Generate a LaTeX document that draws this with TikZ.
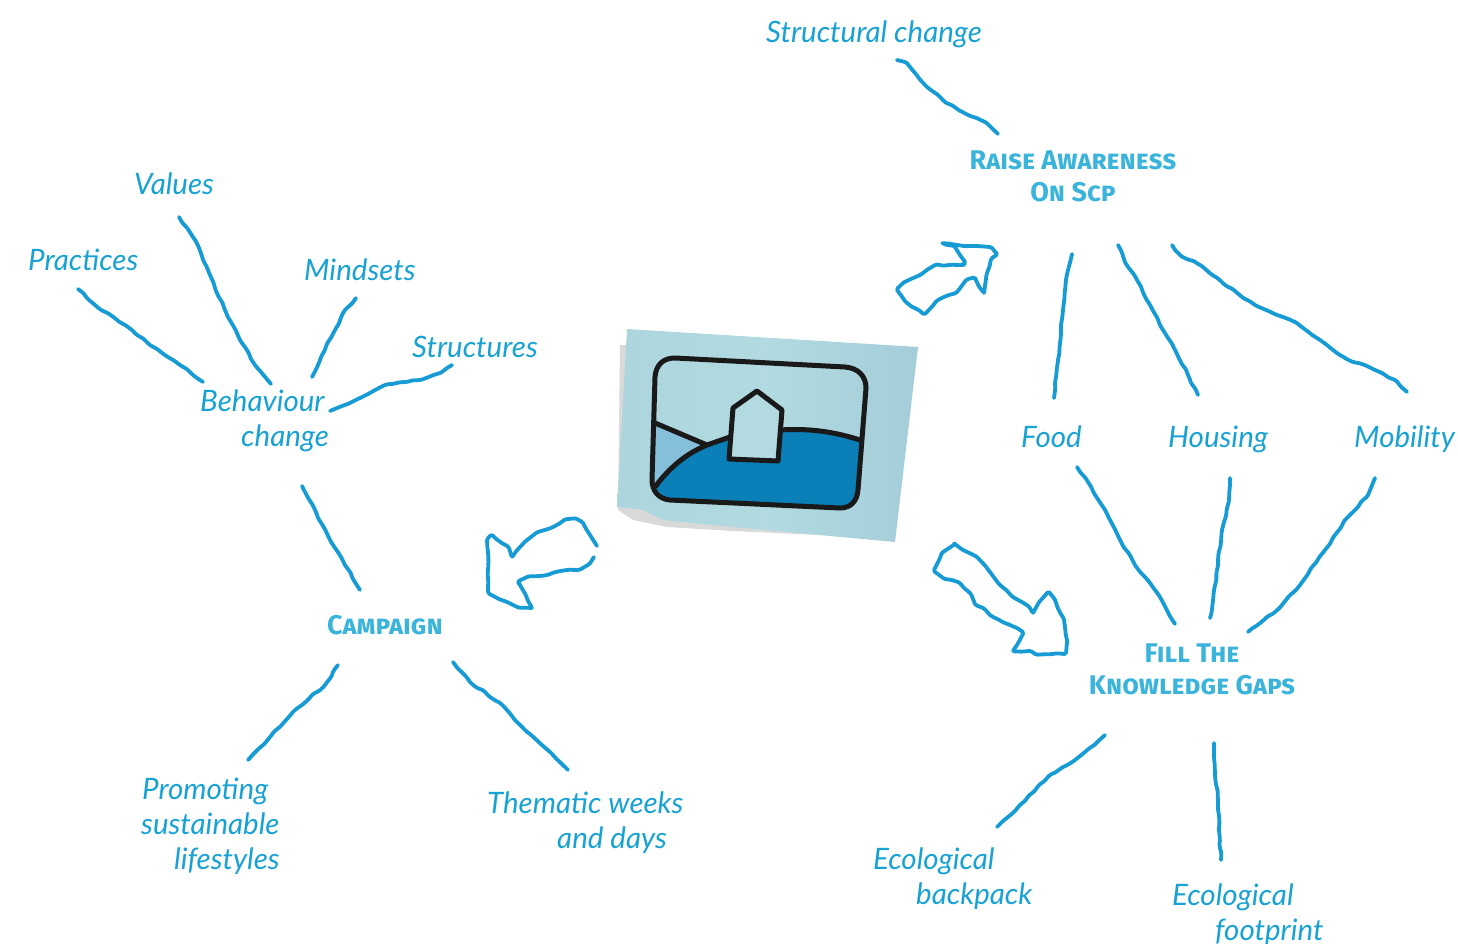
\documentclass[tikz,border=0pt]{standalone}
\usepackage{fontspec}
\usetikzlibrary{decorations.pathmorphing}
\setmainfont{Lato}
\newfontfamily\headfont[Numbers=Lining]{Fira Sans}
\definecolor{pen}{HTML}{169BD5}
\definecolor{labelc}{HTML}{18A2D4}
\definecolor{headc}{HTML}{3BB4DC}
\definecolor{stickerc}{HTML}{B2DAE0}
\definecolor{stickerd}{HTML}{A4CDDA}
\definecolor{stickerl}{HTML}{ACD5DE}
\definecolor{deepc}{HTML}{0A7FB8}
\definecolor{hillc}{HTML}{86BFD9}
\pgfmathsetseed{7}
\tikzset{
  wig/.style={draw=pen,line width=3.8pt,line join=round,line cap=round,rounded corners=1.5pt,
    decorate,decoration={random steps,segment length=7pt,amplitude=0.9pt}},
  lab/.style={inner sep=0pt,anchor=west,align=left,text=labelc,font=\fontsize{29.5}{35}\selectfont\itshape},
  head/.style={inner sep=0pt,align=center,text=headc,font=\headfont\fontsize{27}{32}\selectfont\bfseries\scshape},
  ink/.style={draw=black!90,line width=5pt,line join=round}
}
\begin{document}
\begin{tikzpicture}[x=1pt,y=-1pt]
\useasboundingbox (0,0) rectangle (1458,944);
% labels
\node[lab] (structural) at (766,34) {Structural change};
\node[head] (raise) at (1073,176) {Raise Awareness\\On Scp};
\node[lab] (food) at (1021,437) {Food};
\node[lab] (housing) at (1168,439) {Housing};
\node[lab] (mobility) at (1354,439) {Mobility};
\node[head] (fill) at (1192,669) {Fill The\\Knowledge Gaps};
\node[lab] (backpack) at (873,879) {Ecological\\\hspace*{43pt}backpack};
\node[lab] (footprint) at (1172,915) {Ecological\\\hspace*{43pt}footprint};
\node[lab] (values) at (134,184) {Values};
\node[lab] (practices) at (28,260) {Practices};
\node[lab] (mindsets) at (304,270) {Mindsets};
\node[lab] (structures) at (412,347) {Structures};
\node[lab] (behaviour) at (200,421) {Behaviour\\\hspace*{41pt}change};
\node[lab] (promoting) at (141,826) {\hspace*{1pt}Promoting\\sustainable\\\hspace*{33pt}lifestyles};
\node[head] (campaign) at (385,625) {Campaign};
\node[lab] (thematic) at (487,823) {Thematic weeks\\\hspace*{70pt}and days};
% connectors
\draw[wig] (897,60)--(905,62)--(915,73)--(925,85)--(945,102)--(968,115)--(985,122)--(998,134);
\draw[wig] (1072,254)--(1068,270)--(1065,290)--(1063,310)--(1061,325)--(1058,360)--(1054,398);
\draw[wig] (1118,245)--(1125,262)--(1140,285)--(1150,305)--(1160,325)--(1175,350)--(1188,375)--(1198,395);
\draw[wig] (1172,245)--(1180,255)--(1200,265)--(1225,285)--(1255,305)--(1295,322)--(1320,340)--(1345,358)--(1375,370)--(1395,380)--(1407,392);
\draw[wig] (1077,467)--(1090,485)--(1105,510)--(1120,540)--(1135,565)--(1155,590)--(1175,624);
\draw[wig] (1230,478)--(1229,500)--(1222,530)--(1218,565)--(1214,590)--(1210,618);
\draw[wig] (1375,478)--(1368,495)--(1345,520)--(1325,550)--(1300,585)--(1275,612)--(1248,632);
\draw[wig] (1105,735)--(1075,760)--(1050,775)--(1020,805)--(997,827);
\draw[wig] (1214,743)--(1215,775)--(1218,800)--(1219,830)--(1221,860);
\draw[wig] (453,662)--(470,682)--(500,703)--(525,730)--(550,752)--(568,770);
\draw[wig] (338,665)--(325,685)--(295,710)--(270,737)--(248,760);
\draw[wig] (302,486)--(315,510)--(330,540)--(345,565)--(360,590);
\draw[wig] (330,411)--(360,398)--(385,385)--(420,380)--(440,373)--(452,365);
\draw[wig] (356,298)--(345,310)--(335,330)--(322,355)--(312,377);
\draw[wig] (179,217)--(195,240)--(210,275)--(225,310)--(240,340)--(255,365)--(271,384);
\draw[wig] (78,289)--(95,305)--(125,325)--(150,345)--(180,365)--(203,382);
% hand drawn arrows
\draw[wig] (942,243)--(957,245)--(977,246)--(990,247)--(997,254)--(992,258)--(987,273)--(984,293)--(980,288)--(975,278)--(968,279)--(957,292)--(938,300)--(925,314)--(907,303)--(897,290)--(902,284)--(920,275)--(935,265)--(962,265)--(965,263)--(955,247)--cycle;
\draw[wig] (597,546)--(583,523)--(577,519)--(567,519)--(553,527)--(538,532)--(527,540)--(512,557)--(509,548)--(492,535)--(488,538)--(488,592)--(497,598)--(507,602)--(517,607)--(532,608)--(520,585)--(518,582)--(527,577)--(540,576)--(567,570)--(578,570)--(588,565)--(594,557);
\draw[wig] (955,544)--(943,552)--(934,570)--(943,578)--(958,582)--(970,593)--(975,604)--(983,608)--(990,615)--(1010,625)--(1023,632)--(1013,651)--(1030,651)--(1035,654)--(1065,654)--(1067,643)--(1064,620)--(1055,600)--(1049,592)--(1040,601)--(1033,613)--(1030,608)--(1013,597)--(1000,585)--(990,572)--(978,558)--(963,550)--cycle;
% sticker
\fill[black!15] (620,345)--(640,345)--(640,505)--(820,535)--(733,531)--(667,527)--(633,520)--(618,510)--cycle;
\shade[left color=stickerl,right color=stickerd,middle color=stickerc]
  (627,329)--(918,347)--(895,542)--(733,527)--(663,520)--(643,510)--(617,507)--cycle;
\coordinate (hillL) at (655,487);
\coordinate (hillR) at (860,440);
\coordinate (hillM) at (707,445);
\fill[hillc] (655,423)--(707,445)--(680,460)--(655,487)--(652,478)--cycle;
\fill[deepc] (hillL) .. controls (672,464) and (690,452) .. (hillM) -- (730,437) .. controls (770,428) and (820,428) .. (hillR) -- (858,493) .. controls (856,502) and (850,508) .. (840,508) -- (670,500) .. controls (664,498) and (660,494) .. (hillL) -- cycle;
\draw[ink] (655,423)--(hillM);
\draw[ink] (hillL) .. controls (672,464) and (690,452) .. (hillM) -- (730,437);
\draw[ink] (780,430) .. controls (810,428) and (835,432) .. (hillR);
\fill[stickerc] (733,408)--(757,391)--(782,410)--(778,461)--(729,459)--cycle;
\draw[ink] (733,408)--(757,391)--(782,410)--(778,461)--(729,459)--cycle;
\draw[ink] (655,377) .. controls (656,364) and (664,358) .. (675,358) -- (845,367) .. controls (858,368) and (866,376) .. (866,388) -- (858,490) .. controls (857,502) and (850,508) .. (840,508) -- (670,500) .. controls (658,499) and (652,490) .. (652,480) -- cycle;
\end{tikzpicture}
\end{document}
